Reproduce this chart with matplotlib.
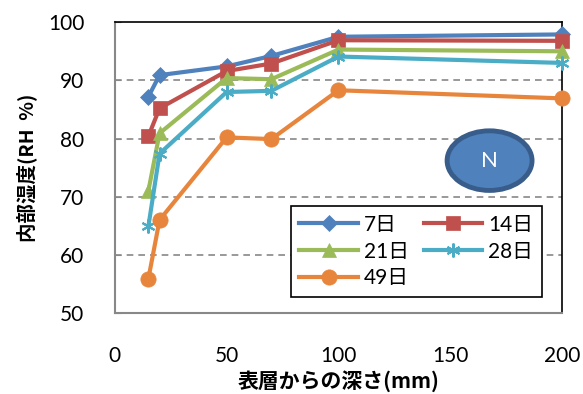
import matplotlib
matplotlib.use("Agg")
import matplotlib.pyplot as plt
from matplotlib.patches import Ellipse

plt.rcParams['font.family'] = ['Lato', 'Noto Sans CJK JP', 'DejaVu Sans']

depth = [15, 20, 50, 70, 100, 200]
labels = ['7日', '14日', '21日', '28日', '49日']
d7 = [87.2, 90.9, 92.4, 94.2, 97.5, 97.9]
d14 = [80.4, 85.2, 91.6, 92.9, 96.9, 96.8]
d21 = [71.0, 80.9, 90.4, 90.2, 95.3, 95.0]
d28 = [64.9, 77.4, 88.0, 88.2, 94.1, 93.0]
d49 = [55.9, 66.0, 80.2, 79.9, 88.3, 86.9]
series = [d7, d14, d21, d28, d49]
colors = ['#4F81BD', '#C0504D', '#9BBB59', '#4BACC6', '#E8853C']
markers = ['D', 's', '^', (6, 2, 0), 'o']
msizes = [8, 10, 10, 10, 11]
xticks = [0, 50, 100, 150, 200]
yticks = [50, 60, 70, 80, 90, 100]

fig = plt.figure(figsize=(5.83, 3.94), dpi=100)
ax = fig.add_axes([0.197, 0.2056, 0.767, 0.738])

lines = []
for y, c, m, ms, lab in zip(series, colors, markers, msizes, labels):
    mew = 1.5 if lab == '28日' else 0.5
    ln, = ax.plot(depth, y, color=c, lw=3, marker=m, ms=ms, mfc=c, mec=c, mew=mew,
                  label=lab, clip_on=False, zorder=3)
    lines.append(ln)

ax.set_xlim(0, 200)
ax.set_ylim(50, 100)
ax.set_xticks(xticks)
ax.set_yticks(yticks)
for yv in [60, 70, 80, 90]:
    ax.axhline(yv, color='#888888', lw=1.2, ls=(0, (4, 3)), zorder=1)

for s in ['top', 'right']:
    ax.spines[s].set_color('black')
    ax.spines[s].set_linewidth(1.2)
for s in ['left', 'bottom']:
    ax.spines[s].set_color('#888888')
    ax.spines[s].set_linewidth(1.5)

ax.tick_params(axis='y', direction='in', length=4, color='#888888', labelsize=15, pad=22)
ax.tick_params(axis='x', length=0, labelsize=15, pad=24)

ax.set_xlabel('表層からの深さ(mm)', fontsize=15, fontweight='bold',
              family=['Noto Sans CJK JP', 'DejaVu Sans'], labelpad=3)
ax.set_ylabel('内部湿度(RH  %)', fontsize=14, fontweight='bold',
              family=['Noto Sans CJK JP', 'DejaVu Sans'], labelpad=8)

ell = Ellipse((0.838, 0.524), 0.19, 0.205, transform=ax.transAxes,
              facecolor='#4F81BD', edgecolor='#385D8A', lw=3.5, zorder=4)
ax.add_patch(ell)
ax.text(0.838, 0.524, 'N', transform=ax.transAxes, ha='center', va='center',
        color='white', fontsize=16, zorder=5)

order = [0, 2, 4, 1, 3]
leg = ax.legend([lines[i] for i in order], [labels[i] for i in order],
                loc='lower right', bbox_to_anchor=(0.978, 0.02), ncol=2,
                frameon=True, fancybox=False, edgecolor='black', framealpha=1,
                handlelength=2.8, columnspacing=0.7, labelspacing=0.33,
                borderpad=0.4, handletextpad=0.3,
                prop={'family': ['Lato', 'Noto Sans CJK JP'], 'size': 15})
leg.get_frame().set_linewidth(1.2)
leg.set_zorder(6)

fig.savefig('out.png', dpi=100)
